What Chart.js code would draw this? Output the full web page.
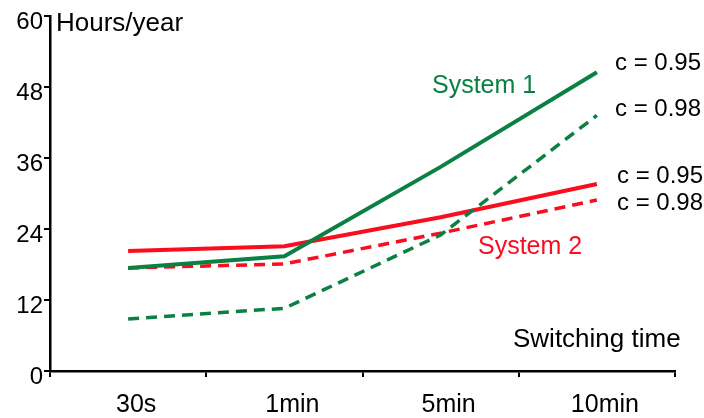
<!DOCTYPE html>
<html>
<head>
<meta charset="UTF-8">
<script src="https://cdn.jsdelivr.net/npm/chart.js"></script>
<style>
  html, body { margin: 0; padding: 0; background: #fff; }
  #wrap { width: 704px; height: 418px; }
</style>
</head>
<body>
<div id="wrap"><canvas id="chart" width="704" height="418"></canvas></div>
<script>
const categories = ['30s', '1min', '5min', '10min'];
const yTicks = [0, 12, 24, 36, 48, 60];
const sys1c95 = [17.4, 19.4, 34.5, 50.5];
const sys1c98 = [8.8, 10.6, 23.0, 43.2];
const sys2c95 = [20.3, 21.1, 26.0, 31.6];
const sys2c98 = [17.4, 18.1, 23.3, 28.9];

const green = '#0a8043';
const red = '#fa0d1e';
const font = '"Liberation Sans", Arial, sans-serif';

// text notes drawn on top of the chart
const notes = [
  { text: 'Hours/year', x: 56, y: 24, size: 26, color: '#000' },
  { text: 'Switching time', x: 513, y: 340, size: 26, color: '#000' },
  { text: 'System 1', x: 432, y: 86, size: 25, color: green },
  { text: 'System 2', x: 478, y: 247, size: 25, color: red },
  { text: 'c = 0.95', x: 615, y: 63, size: 24, color: '#000' },
  { text: 'c = 0.98', x: 615, y: 109, size: 24, color: '#000' },
  { text: 'c = 0.95', x: 617, y: 176, size: 24, color: '#000' },
  { text: 'c = 0.98', x: 617, y: 203, size: 24, color: '#000' }
];

const notesPlugin = {
  id: 'notes',
  afterDraw(chart) {
    const ctx = chart.ctx;
    ctx.save();
    ctx.textBaseline = 'middle';
    ctx.textAlign = 'left';
    notes.forEach(n => {
      ctx.font = n.size + 'px ' + font;
      ctx.fillStyle = n.color;
      ctx.fillText(n.text, n.x, n.y);
    });
    ctx.restore();
  }
};

new Chart(document.getElementById('chart'), {
  type: 'line',
  data: {
    labels: categories,
    datasets: [
      { data: sys1c95, borderColor: green, borderWidth: 4 },
      { data: sys1c98, borderColor: green, borderWidth: 3.5, borderDash: [11, 7] },
      { data: sys2c95, borderColor: red, borderWidth: 4 },
      { data: sys2c98, borderColor: red, borderWidth: 3.5, borderDash: [11, 7] }
    ]
  },
  options: {
    responsive: false,
    animation: false,
    layout: { padding: { top: 16, right: 29, left: 0, bottom: 0 } },
    elements: { point: { radius: 0 }, line: { tension: 0, fill: false } },
    plugins: { legend: { display: false }, tooltip: { enabled: false } },
    scales: {
      x: {
        offset: true,
        grid: { offset: true, drawOnChartArea: false, drawTicks: true, tickLength: 6, color: '#000', lineWidth: 2 },
        border: { display: true, color: '#000', width: 2.5 },
        ticks: { color: '#000', font: { family: font, size: 25 }, padding: 13, labelOffset: 8, maxRotation: 0 },
        afterFit: s => { s.height = 47; }
      },
      y: {
        min: 0,
        max: 60,
        afterBuildTicks: s => { s.ticks = yTicks.map(v => ({ value: v })); },
        grid: { drawOnChartArea: false, drawTicks: true, tickLength: 6, color: '#000', lineWidth: 2 },
        border: { display: true, color: '#000', width: 2.5 },
        ticks: { color: '#000', font: { family: font, size: 24 }, padding: 1, labelOffset: 6 },
        afterFit: s => { s.width = 50; }
      }
    }
  },
  plugins: [notesPlugin]
});
</script>
</body>
</html>
